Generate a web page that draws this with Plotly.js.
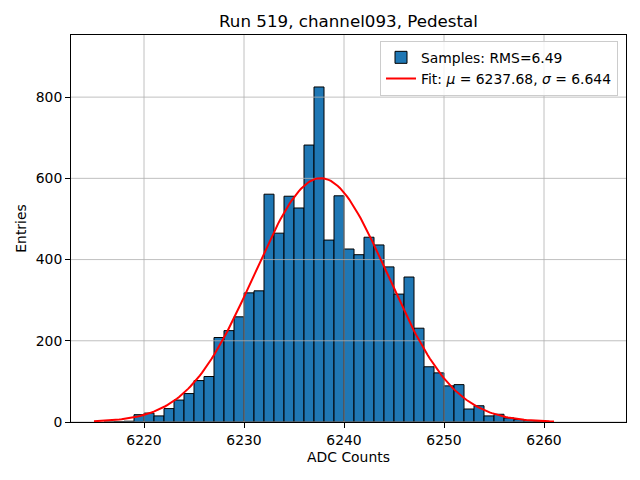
<!DOCTYPE html>
<html>
<head>
<meta charset="utf-8">
<script src="https://cdn.plot.ly/plotly-3.0.1.min.js"></script>
<style>html,body{margin:0;padding:0;background:#fff;}#chart{width:640px;height:480px;}</style>
</head>
<body>
<div id="chart"></div>
<script>
// Histogram bins (left edges, width 1 ADC count)
const binEdges = [6216,6217,6218,6219,6220,6221,6222,6223,6224,6225,6226,6227,6228,6229,
  6230,6231,6232,6233,6234,6235,6236,6237,6238,6239,6240,6241,6242,6243,6244,6245,6246,
  6247,6248,6249,6250,6251,6252,6253,6254,6255,6256,6257,6258,6259];
const counts = [0,1,2,18,22,15,33,54,70,102,112,208,225,259,
  318,323,561,465,556,527,682,825,448,557,426,412,455,436,382,315,357,
  231,136,121,89,92,32,40,15,19,10,6,3,1];
// Fit parameters
const fitMu = 6237.68;
const fitSigma = 6.644;
const fitAmp = 600.5;
const fitRange = [6215, 6261];
const xTicks = [6220, 6230, 6240, 6250, 6260];
const yTicks = [0, 200, 400, 600, 800];
const xRange = [6212.7, 6268.2];
const yRange = [0, 953];

const binCenters = binEdges.map(e => e + 0.5);
const fitX = [], fitY = [];
const nPts = 200;
for (let i = 0; i <= nPts; i++) {
  const x = fitRange[0] + (fitRange[1] - fitRange[0]) * i / nPts;
  fitX.push(x);
  fitY.push(fitAmp * Math.exp(-0.5 * Math.pow((x - fitMu) / fitSigma, 2)));
}

// grid lines drawn as traces so they sit above bars, below the fit line
const gx = [], gy = [];
xTicks.forEach(t => { gx.push(t, t, null); gy.push(yRange[0], yRange[1], null); });
yTicks.forEach(t => { gx.push(xRange[0], xRange[1], null); gy.push(t, t, null); });

const font = 'DejaVu Sans, Liberation Sans, sans-serif';

const traces = [
  {
    type: 'bar', x: binCenters, y: counts, width: 1,
    marker: {color: '#1f77b4', line: {color: '#000000', width: 1}},
    name: 'Samples: RMS=6.49', hoverinfo: 'x+y'
  },
  {
    type: 'scatter', mode: 'lines', x: gx, y: gy,
    line: {color: '#b0b0b0', width: 0.8}, showlegend: false, hoverinfo: 'skip'
  },
  {
    type: 'scatter', mode: 'lines', x: fitX, y: fitY,
    line: {color: '#ff0000', width: 2},
    name: 'Fit: <i>μ</i> = 6237.68, <i>σ</i> = 6.644'
  }
];

const layout = {
  width: 640, height: 480,
  margin: {l: 71, r: 14, t: 35, b: 58},
  paper_bgcolor: '#ffffff', plot_bgcolor: '#ffffff',
  font: {family: font, size: 13.9, color: '#000'},
  title: {text: 'Run 519, channel093, Pedestal', font: {family: font, size: 16.7, color: '#000'},
          x: 0.5, xanchor: 'center', y: 0.955, yanchor: 'middle', xref: 'paper'},
  bargap: 0,
  showlegend: true,
  legend: {x: 0.9856, y: 0.985, xanchor: 'right', yanchor: 'top',
           bgcolor: 'rgba(255,255,255,0.8)', bordercolor: '#cccccc', borderwidth: 1,
           font: {family: font, size: 13.9, color: '#000'}, tracegroupgap: 4},
  xaxis: {
    range: xRange, tickvals: xTicks, ticktext: xTicks.map(String),
    showgrid: false, zeroline: false,
    showline: true, linecolor: '#000', linewidth: 1, mirror: true,
    ticks: 'outside', ticklen: 5, tickwidth: 1, tickcolor: '#000',
    tickfont: {family: font, size: 13.9, color: '#000'},
    title: {text: 'ADC Counts', font: {family: font, size: 13.9, color: '#000'}, standoff: 5}
  },
  yaxis: {
    range: yRange, tickvals: yTicks, ticktext: yTicks.map(String),
    showgrid: false, zeroline: false,
    showline: true, linecolor: '#000', linewidth: 1, mirror: true,
    ticks: 'outside', ticklen: 5, tickwidth: 1, tickcolor: '#000',
    tickfont: {family: font, size: 13.9, color: '#000'},
    title: {text: 'Entries', font: {family: font, size: 13.9, color: '#000'}, standoff: 5}
  }
};

Plotly.newPlot('chart', traces, layout, {displayModeBar: false, staticPlot: true});
</script>
</body>
</html>
